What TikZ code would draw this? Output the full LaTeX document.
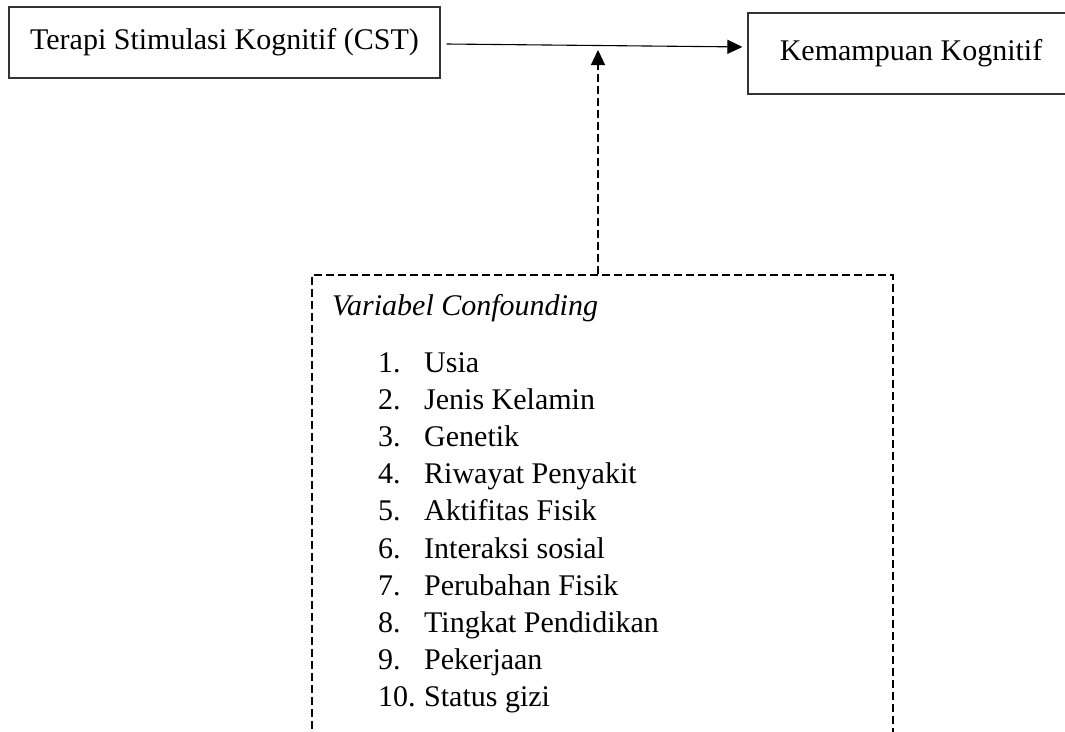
\documentclass[tikz,border=0pt]{standalone}
\usepackage{fontspec}
\setmainfont{Liberation Serif}
\usepackage{tikz}
\usetikzlibrary{arrows.meta}

\begin{document}
\begin{tikzpicture}[
		x=1pt, y=-1pt,
		every node/.style={font=\fontsize{30}{36}\selectfont},
		box/.style={rectangle,draw=black!80,line width=1.2pt,inner sep=0pt},
		confbox/.style={rectangle,draw,line width=1.1pt,dash pattern=on 8pt off 4pt,inner sep=0pt},
		item/.style={inner sep=0pt},
		tip/.style={-{Triangle[length=15pt,width=14pt]}}]
		\useasboundingbox (0,0) rectangle (1065,731);
		\clip (0,0) rectangle (1065,731);

		\node[box, minimum width=431pt, minimum height=71pt] (cst) at (224.5,42.5) {Terapi Stimulasi Kognitif (CST)};
		\node[box, minimum width=326pt, minimum height=81pt] (kog) at (911,53.5) {Kemampuan Kognitif};
		\node[confbox, minimum width=581pt, minimum height=480pt] (conf) at (602.5,515) {};
		\coordinate (mid) at (598,50);

		\node[item, anchor=base west] (head) at (332,315) {\itshape Variabel Confounding};
		\foreach \i/\txt in {1/Usia, 2/Jenis Kelamin, 3/Genetik, 4/Riwayat Penyakit, 5/Aktifitas Fisik,
				6/Interaksi sosial, 7/Perubahan Fisik, 8/Tingkat Pendidikan, 9/Pekerjaan, 10/Status gizi}
		{
			\node[item, anchor=base west] (n\i) at (378,{372+37.2*(\i-1)}) {\i.};
			\node[item, anchor=base west] (t\i) at (424,{372+37.2*(\i-1)}) {\txt};
		}

		\draw[line width=1.1pt, tip, shorten >=5pt]
			([xshift=6pt,yshift=-1.5pt]cst.east) -- ([yshift=6.5pt]kog.west);
		\draw[line width=1.1pt, dash pattern=on 8pt off 4pt, tip]
			(conf.north -| mid) -- (mid);
\end{tikzpicture}
\end{document}
